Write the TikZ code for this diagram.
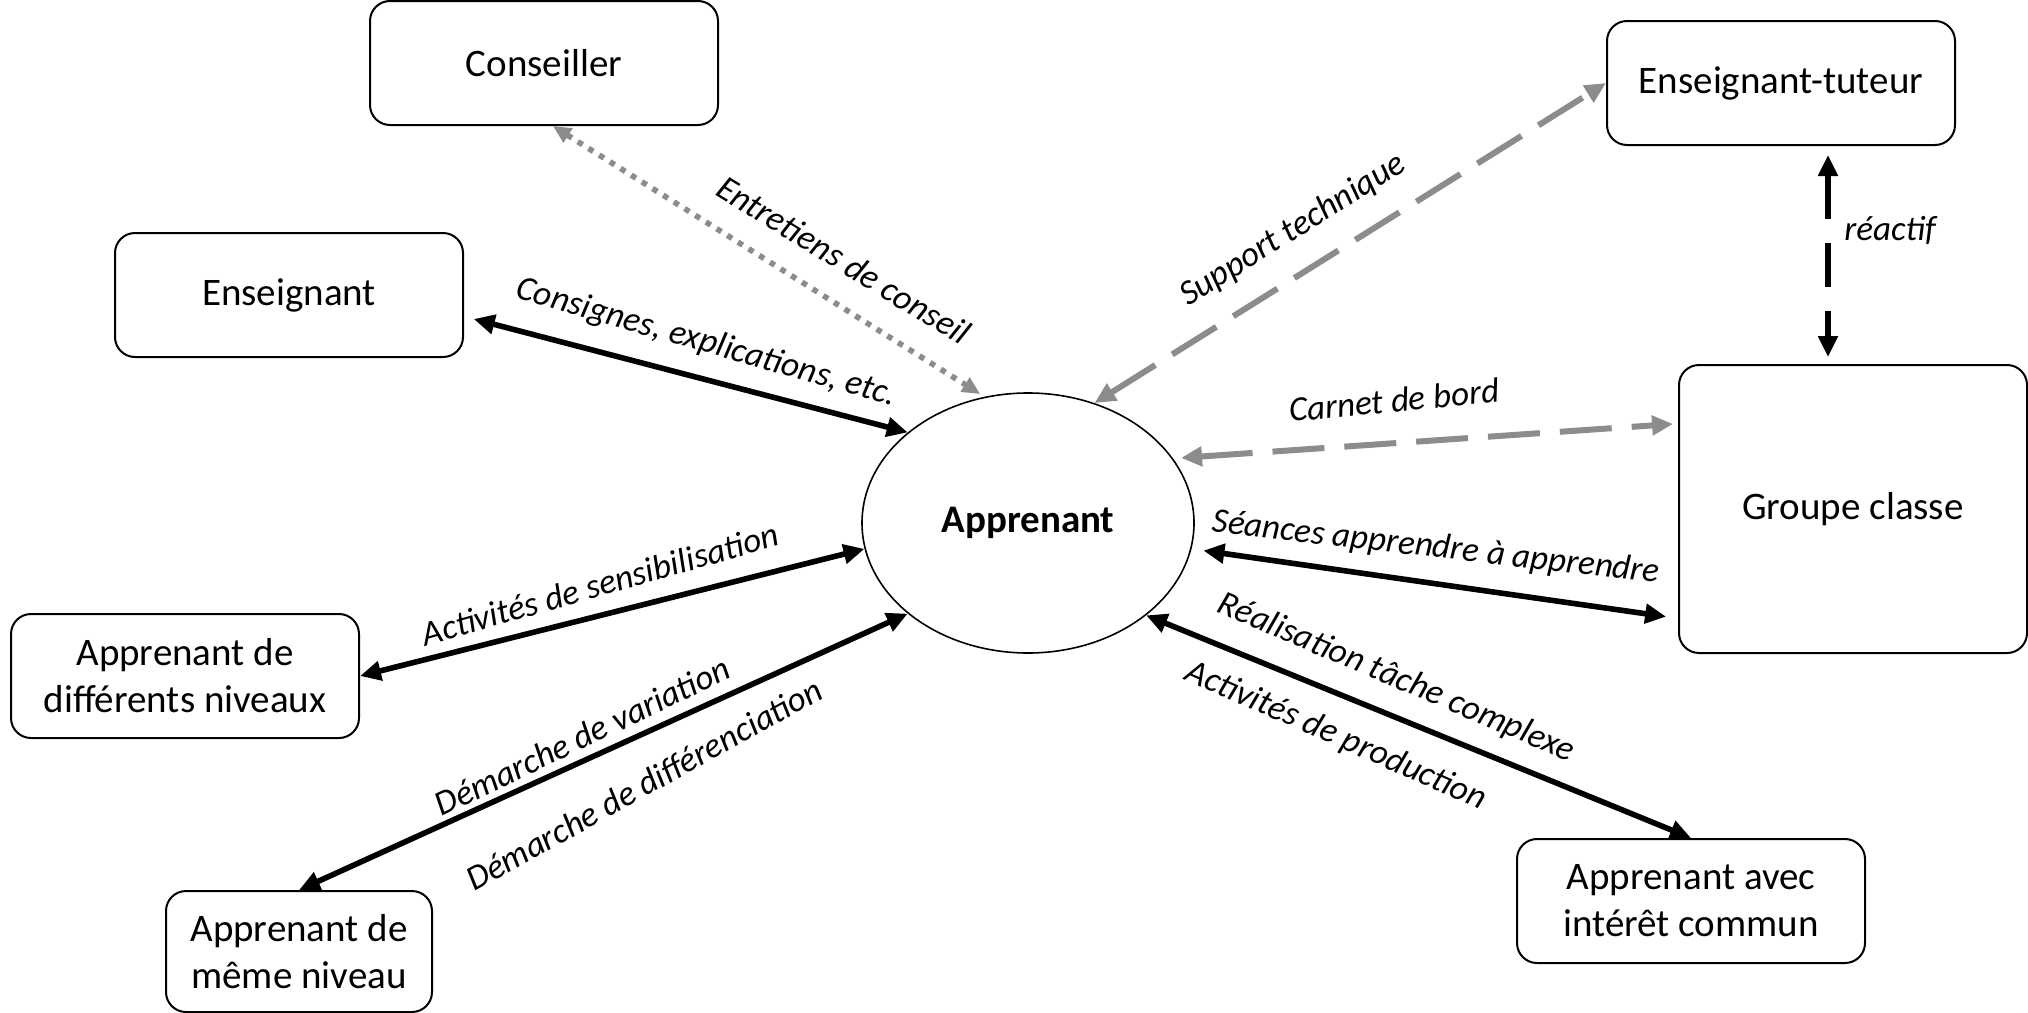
\documentclass[tikz,border=0pt]{standalone}
\usepackage{fontspec}
\setmainfont{Carlito}
\usetikzlibrary{arrows.meta,shapes.geometric}

\definecolor{arrowGrey}{RGB}{140,140,140}

\begin{document}
\begin{tikzpicture}
[x=0.5pt,y=-0.5pt,
  boxDecorate/.style={shape=rectangle,rounded corners=10pt,draw,line width=1pt,
    minimum width=174pt,minimum height=62pt,align=center,inner sep=2pt,
    font=\fontsize{19.5}{23.5}\selectfont},
  ellipseDecorate/.style={shape=ellipse,draw,line width=0.8pt,inner sep=0pt,
    minimum width=166pt,minimum height=130pt,font=\fontsize{19.5}{23.5}\selectfont\bfseries},
  labelDecorate/.style={inner sep=0pt,font=\fontsize{17.5}{21}\selectfont\itshape},
  lineDecorate/.style={{Triangle[length=10.5pt,width=9.5pt]}-{Triangle[length=10.5pt,width=9.5pt]},line width=2.8pt},
  greyDashDecorate/.style={lineDecorate,draw=arrowGrey,dash pattern=on 26pt off 10pt,line width=3pt},
  greyDotDecorate/.style={{Triangle[length=9pt,width=8pt]}-{Triangle[length=9pt,width=8pt]},
    draw=arrowGrey,dash pattern=on 2.8pt off 3.5pt,line width=2.8pt},
  blackDashDecorate/.style={lineDecorate,dash pattern=on 22pt off 12pt,line width=3pt}]
\useasboundingbox (0,0) rectangle (2028,1012);
%% boxes
\foreach \nodename/\x/\y/\nodetext in {
  cons/544/63/Conseiller,
  ens/289/295/Enseignant,
  tut/1781/83/Enseignant-tuteur,
  diff/185/676/{Apprenant de\\différents niveaux},
  commun/1691/901/{Apprenant avec\\intérêt commun}}
{
  \node (\nodename) at (\x,\y) [boxDecorate] {\nodetext};
}
\node (meme) at (299,951.5) [boxDecorate,minimum width=133pt,minimum height=60.5pt] {Apprenant de\\même niveau};
\node (grp) at (1853,509) [boxDecorate,minimum height=144pt] {Groupe classe};
\node (app) at (1028,523) [ellipseDecorate] {Apprenant};
%% connectors
\path
\foreach \startnode/\endnode/\gapstart/\gapend in {
  ens.-7/app.143/5pt/0pt,
  diff.east/app.189/0pt/0pt,
  meme.north/app.217/0pt/0pt,
  commun.north/app.-38/0pt/0pt,
  grp.-148/app.-9/6pt/6pt}
{
  (\startnode) edge[lineDecorate,shorten <=\gapstart,shorten >=\gapend] (\endnode)
};
\draw[greyDotDecorate,shorten >=2.5pt] (cons.-82) -- (app.109);
\draw[greyDashDecorate] (app.61) -- (tut.west);
\draw[greyDashDecorate,shorten <=4pt,shorten >=2.5pt] (app.24) -- (grp.154);
\draw[blackDashDecorate,shorten <=4.5pt,shorten >=3.5pt] ([xshift=23.5pt]tut.south) -- ([xshift=-12.5pt]grp.north);
%% labels
\node[labelDecorate,rotate=-31.6] (conseilLabel) at (844,260) {Entretiens de conseil};
\node[labelDecorate,rotate=-16] (consigneLabel) at (706,343) {Consignes, explications, etc.};
\node[labelDecorate,rotate=32] (supportLabel) at (1293,230) {Support technique};
\node[labelDecorate] (reactifLabel) at (1890,230) {réactif};
\node[labelDecorate,rotate=5.4] (carnetLabel) at (1394,400) {Carnet de bord};
\node[labelDecorate,rotate=-6.5] (seanceLabel) at (1436,548) {Séances apprendre à apprendre};
\node[labelDecorate,rotate=-23] (tacheLabel) at (1396,678) {Réalisation tâche complexe};
\node[labelDecorate,rotate=-23.8] (productionLabel) at (1336,736) {Activités de production};
\node[labelDecorate,rotate=15.9] (sensibLabel) at (600,584) {Activités de sensibilisation};
\node[labelDecorate,rotate=25.6] (variationLabel) at (582,736) {Démarche de variation};
\node[labelDecorate,rotate=29] (differLabel) at (644,784) {Démarche de différenciation};
\end{tikzpicture}
\end{document}
